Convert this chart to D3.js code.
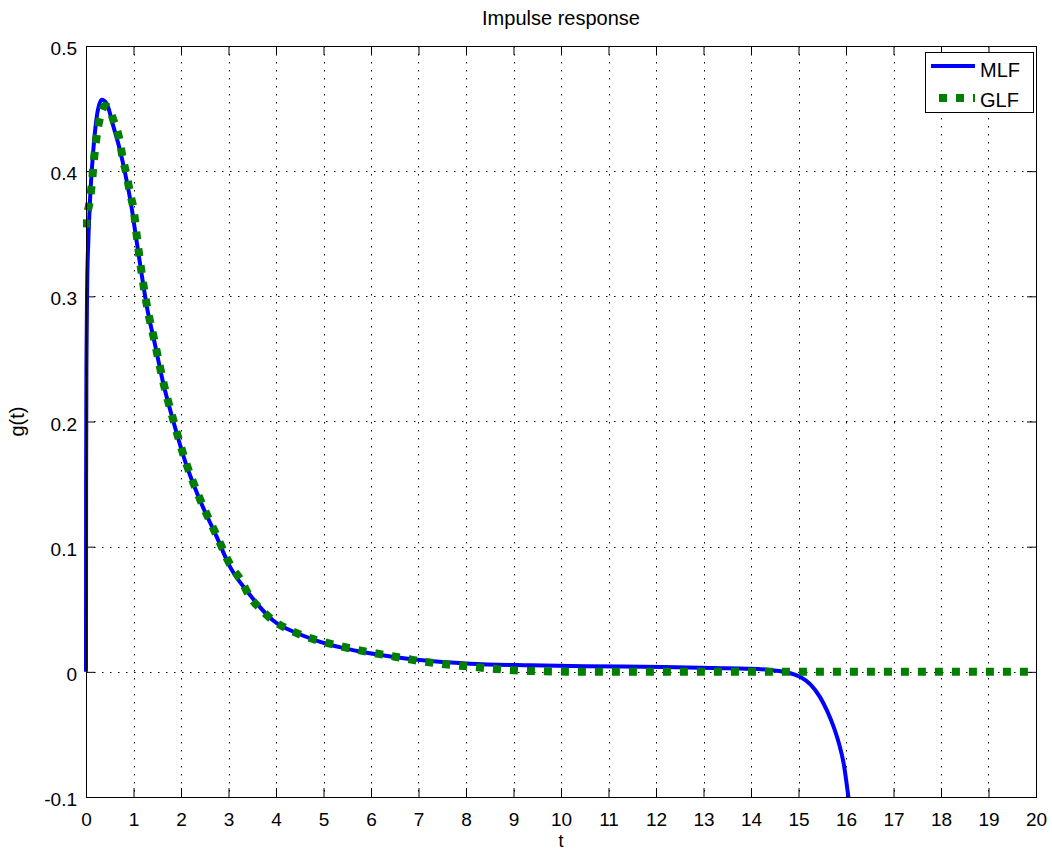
<!DOCTYPE html>
<html>
<head>
<meta charset="utf-8">
<script src="https://cdn.jsdelivr.net/npm/d3@7"></script>
<style>
  html, body { margin: 0; padding: 0; background: #fff; }
  svg { display: block; font-family: "Liberation Sans", Arial, Helvetica, sans-serif; }
</style>
</head>
<body>
<svg id="chart" width="1052" height="852"></svg>
<script>
// ---- data ----
const titleText = "Impulse response";
const xLabel = "t";
const yLabel = "g(t)";
const xTicks = d3.range(0, 21, 1);
const yTicks = [-0.1, 0, 0.1, 0.2, 0.3, 0.4, 0.5];
const seriesNames = ["MLF", "GLF"];

const mlfT = [0, 0.002, 0.01, 0.025, 0.05, 0.085, 0.15, 0.225, 0.33, 0.435, 0.575, 0.72, 0.82, 0.96, 1.05, 1.17, 1.28, 1.45, 1.63, 1.84, 2.08, 2.4, 2.75, 3.03, 3.42, 3.94, 4.5, 4.93, 5.98, 7.03, 8.08, 9.35, 10.5, 12.15, 13.2, 14.0, 14.4, 14.7, 15.03, 15.25, 15.45, 15.6, 15.74, 15.85, 15.95, 16.05, 16.1];
const mlfG = [0, 0.15, 0.25, 0.31, 0.345, 0.377, 0.415, 0.443, 0.457, 0.454, 0.436, 0.416, 0.399, 0.371, 0.348, 0.318, 0.292, 0.262, 0.230, 0.200, 0.169, 0.137, 0.108, 0.084, 0.063, 0.041, 0.030, 0.024, 0.0148, 0.0094, 0.0065, 0.0052, 0.0045, 0.0038, 0.0031, 0.0025, 0.0015, 0.0, -0.004, -0.01, -0.02, -0.031, -0.044, -0.057, -0.073, -0.1, -0.115];

const glfT = [0, 0.01, 0.07, 0.12, 0.17, 0.24, 0.31, 0.4, 0.47, 0.575, 0.7, 0.77, 0.86, 0.93, 1.0, 1.07, 1.17, 1.28, 1.45, 1.63, 1.84, 2.08, 2.4, 2.75, 3.03, 3.28, 3.44, 3.68, 3.94, 4.26, 4.59, 4.93, 5.28, 5.63, 5.98, 6.33, 6.68, 7.03, 7.39, 7.77, 8.12, 8.47, 8.83, 9.19, 9.53, 10, 11, 20];
const glfG = [0.355, 0.361, 0.374, 0.389, 0.41, 0.432, 0.445, 0.452, 0.451, 0.441, 0.426, 0.411, 0.396, 0.382, 0.37, 0.348, 0.319, 0.293, 0.263, 0.231, 0.201, 0.170, 0.138, 0.109, 0.086, 0.072, 0.0606, 0.050, 0.041, 0.034, 0.0286, 0.0246, 0.0212, 0.0182, 0.0156, 0.0132, 0.011, 0.0086, 0.0068, 0.0052, 0.0041, 0.0028, 0.0017, 0.0009, 0.0005, 0.0002, 0, 0];

// ---- layout ----
const W = 1052, H = 852;
const L = 86, R = 1036, T = 46, B = 797;
const svg = d3.select("#chart");
const x = d3.scaleLinear().domain([0, 20]).range([L, R]);
const y = d3.scaleLinear().domain([-0.1, 0.5]).range([B, T]);
const fs = 20, fsTick = 19, fsLab = 18;

// grid
const grid = svg.append("g").attr("stroke", "#000").attr("stroke-width", 1)
  .attr("stroke-dasharray", "1.5,6.5").attr("fill", "none");
xTicks.forEach(v => {
  grid.append("line").attr("x1", Math.round(x(v)) + 0.5).attr("x2", Math.round(x(v)) + 0.5)
    .attr("y1", T).attr("y2", B);
});
yTicks.forEach(v => {
  grid.append("line").attr("y1", Math.round(y(v)) + 0.5).attr("y2", Math.round(y(v)) + 0.5)
    .attr("x1", L).attr("x2", R);
});

// axes with inward ticks on all four sides
const tl = 9;
const yFmt = v => (Math.abs(v) < 1e-9 ? "0" : v.toFixed(1));
svg.append("g").attr("transform", `translate(0,${B})`)
  .call(d3.axisBottom(x).tickValues(xTicks).tickSize(-tl).tickPadding(16).tickFormat(d3.format("d")))
  .call(g => g.select(".domain").remove());
svg.append("g").attr("transform", `translate(0,${T})`)
  .call(d3.axisTop(x).tickValues(xTicks).tickSize(-tl).tickFormat(""))
  .call(g => g.select(".domain").remove());
svg.append("g").attr("transform", `translate(${L},0)`)
  .call(d3.axisLeft(y).tickValues(yTicks).tickSize(-tl).tickPadding(9).tickFormat(yFmt))
  .call(g => g.select(".domain").remove())
  .call(g => g.selectAll("text").attr("dy", "0.45em"));
svg.append("g").attr("transform", `translate(${R},0)`)
  .call(d3.axisRight(y).tickValues(yTicks).tickSize(-tl).tickFormat(""))
  .call(g => g.select(".domain").remove());
svg.selectAll(".tick line").attr("stroke", "#000");
svg.selectAll(".tick text").attr("font-size", fsTick).attr("fill", "#000")
  .attr("font-family", "Liberation Sans, Arial, sans-serif");

// clip
svg.append("clipPath").attr("id", "clip").append("rect")
  .attr("x", L - 3).attr("y", T).attr("width", R - L + 3).attr("height", B - T);

const line = d3.line().x(d => x(d[0])).y(d => y(d[1])).curve(d3.curveMonotoneX);
const mlf = mlfT.map((t, i) => [t, mlfG[i]]);
const glf = glfT.map((t, i) => [t, glfG[i]]);

const plot = svg.append("g").attr("clip-path", "url(#clip)");
plot.append("path").datum(mlf).attr("d", line)
  .attr("fill", "none").attr("stroke", "#0000ff").attr("stroke-width", 4);
plot.append("path").datum(glf).attr("d", line)
  .attr("fill", "none").attr("stroke", "#007f00").attr("stroke-width", 8)
  .attr("stroke-dasharray", "8,9");

// box
svg.append("rect").attr("x", L + 0.5).attr("y", T + 0.5).attr("width", R - L).attr("height", B - T)
  .attr("fill", "none").attr("stroke", "#000").attr("stroke-width", 1);

// title and labels
svg.append("text").attr("x", (L + R) / 2).attr("y", 25).attr("text-anchor", "middle")
  .attr("font-size", fs).text(titleText);
svg.append("text").attr("x", (L + R) / 2).attr("y", 847).attr("text-anchor", "middle")
  .attr("font-size", fsLab).text(xLabel);
svg.append("text").attr("transform", `translate(24,${(T + B) / 2}) rotate(-90)`)
  .attr("text-anchor", "middle").attr("font-size", fs).text(yLabel);

// legend
const lg = svg.append("g");
lg.append("rect").attr("x", 925.5).attr("y", 52.5).attr("width", 108).attr("height", 60)
  .attr("fill", "#fff").attr("stroke", "#000").attr("stroke-width", 1);
lg.append("line").attr("x1", 931).attr("x2", 975).attr("y1", 66).attr("y2", 66)
  .attr("stroke", "#0000ff").attr("stroke-width", 4);
lg.append("line").attr("x1", 931).attr("x2", 975).attr("y1", 98).attr("y2", 98)
  .attr("stroke", "#007f00").attr("stroke-width", 8)
  .attr("stroke-dasharray", "8,9").attr("stroke-dashoffset", 9);
lg.append("text").attr("x", 980).attr("y", 77).attr("font-size", fs).text(seriesNames[0]);
lg.append("text").attr("x", 980).attr("y", 107).attr("font-size", fs).text(seriesNames[1]);
</script>
</body>
</html>
